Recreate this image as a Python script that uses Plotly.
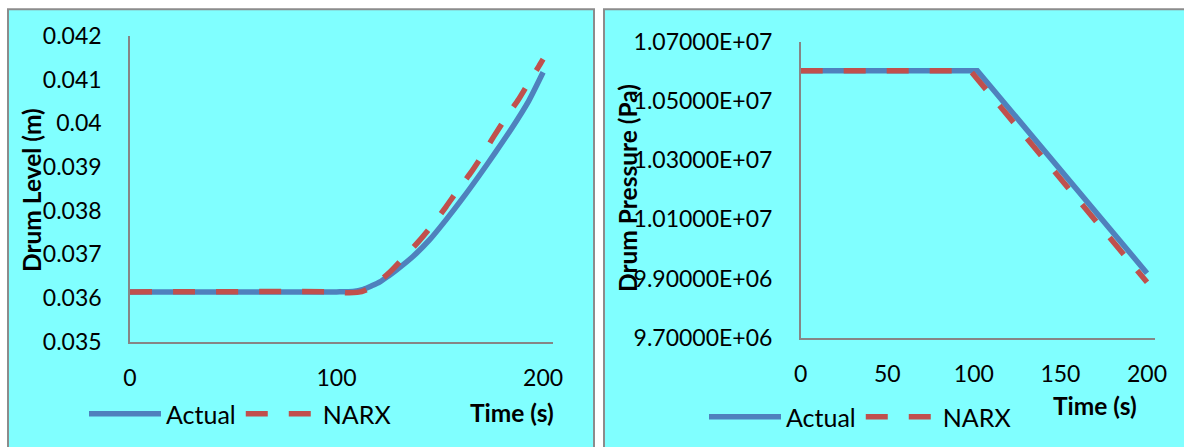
import plotly.graph_objects as go

# ---------------- data ----------------
# Left panel: drum level (m)
t_level_actual = [0, 100, 108, 113, 117, 121, 125, 129, 137, 145, 153, 161, 169, 177, 185, 193, 200]
level_actual = [0.03614, 0.03614, 0.03615, 0.03620, 0.03628, 0.03637, 0.03650, 0.03664, 0.03695,
                0.03733, 0.03779, 0.03828, 0.03880, 0.03934, 0.03990, 0.04051, 0.04117]
t_level_narx = [0, 100, 105, 110, 114, 119, 126, 133, 140, 147, 153, 159, 165, 171, 176, 182, 188, 193, 198, 200]
level_narx = [0.03614, 0.03614, 0.03612, 0.03613, 0.03618, 0.03632, 0.03660, 0.03695, 0.03731, 0.03771,
              0.03809, 0.03849, 0.03887, 0.03930, 0.03969, 0.04013, 0.04054, 0.04093, 0.04131, 0.04147]

# Right panel: drum pressure (Pa)
t_press_actual = [0, 102, 200]
press_actual = [1.0602e7, 1.0602e7, 9.918e6]
t_press_narx = [0, 98, 200]
press_narx = [1.0602e7, 1.0602e7, 9.887e6]

level_ticks = [0.035, 0.036, 0.037, 0.038, 0.039, 0.040, 0.041, 0.042]
level_ticktext = ["0.035", "0.036", "0.037", "0.038", "0.039", "0.04", "0.041", "0.042"]
press_ticks = [9.7e6, 9.9e6, 1.01e7, 1.03e7, 1.05e7, 1.07e7]
press_ticktext = ["9.70000E+06", "9.90000E+06", "1.01000E+07", "1.03000E+07", "1.05000E+07", "1.07000E+07"]
time_ticks_left = [0, 100, 200]
time_ticks_right = [0, 50, 100, 150, 200]

# ---------------- style ----------------
W, H = 1184, 447
BLUE = "#4F81BD"
RED = "#C0504D"
CYAN = "#80FFFF"
BORDER = "#8C8C8C"
AXIS = "#868686"
FONT = "Lato"
LW = 5.5
DASH = "22px,21px"


def px(x):
    return x / W


def py(y):
    return 1 - y / H


fig = go.Figure()

fig.add_trace(go.Scatter(x=t_level_actual, y=level_actual, mode="lines", name="Actual",
                         line=dict(color=BLUE, width=LW, shape="spline", smoothing=0.6),
                         xaxis="x", yaxis="y", legend="legend"))
fig.add_trace(go.Scatter(x=t_level_narx, y=level_narx, mode="lines", name="NARX",
                         line=dict(color=RED, width=LW, dash=DASH, shape="spline", smoothing=0.6),
                         xaxis="x", yaxis="y", legend="legend"))
fig.add_trace(go.Scatter(x=t_press_actual, y=press_actual, mode="lines", name="Actual",
                         line=dict(color=BLUE, width=LW),
                         xaxis="x2", yaxis="y2", legend="legend2"))
fig.add_trace(go.Scatter(x=t_press_narx, y=press_narx, mode="lines", name="NARX",
                         line=dict(color=RED, width=LW, dash=DASH),
                         xaxis="x2", yaxis="y2", legend="legend2"))

tickfont = dict(family=FONT, size=23, color="#000000")
common_axis = dict(showgrid=False, zeroline=False, showline=True, linecolor=AXIS, linewidth=1.5,
                   ticks="", tickfont=tickfont, fixedrange=True, automargin=False)

fig.update_layout(
    template="none",
    width=W, height=H,
    margin=dict(l=0, r=0, t=0, b=0, autoexpand=False),
    paper_bgcolor="#FFFFFF",
    plot_bgcolor="rgba(0,0,0,0)",
    font=dict(family=FONT, color="#000000"),
    xaxis=dict(domain=[px(130), px(553)], range=[0, 204.8], tickvals=time_ticks_left,
               anchor="y", ticklabelstandoff=15, **common_axis),
    yaxis=dict(domain=[py(341.7), py(36)], range=[0.035, 0.042], tickvals=level_ticks,
               ticktext=level_ticktext, anchor="x", ticklabelstandoff=22, **common_axis),
    xaxis2=dict(domain=[px(800.7), px(1155)], range=[0, 204.6], tickvals=time_ticks_right,
                anchor="y2", ticklabelstandoff=15, **common_axis),
    yaxis2=dict(domain=[py(337.7), py(41.7)], range=[9.7e6, 1.07e7], tickvals=press_ticks,
                ticktext=press_ticktext, anchor="x2", ticklabelstandoff=22, **common_axis),
    legend=dict(orientation="h", x=px(84), y=py(414), xanchor="left", yanchor="middle",
                bgcolor="rgba(0,0,0,0)", font=dict(family=FONT, size=25), itemwidth=72,
                tracegroupgap=0),
    legend2=dict(orientation="h", x=px(704), y=py(417), xanchor="left", yanchor="middle",
                 bgcolor="rgba(0,0,0,0)", font=dict(family=FONT, size=25), itemwidth=72,
                 tracegroupgap=0),
    shapes=[
        dict(type="rect", xref="paper", yref="paper", x0=px(8), x1=px(594), y0=-0.2, y1=py(9.3),
             fillcolor=CYAN, line=dict(color=BORDER, width=2), layer="below"),
        dict(type="rect", xref="paper", yref="paper", x0=px(604), x1=1.2, y0=-0.2, y1=py(9.3),
             fillcolor=CYAN, line=dict(color=BORDER, width=2), layer="below"),
    ],
    annotations=[
        dict(text="<b>Drum Level (m)</b>", xref="paper", yref="paper", x=px(31), y=py(190),
             xanchor="center", yanchor="middle",
             textangle=-90, showarrow=False, font=dict(family=FONT, size=24.5)),
        dict(text="<b>Drum Pressure (Pa)</b>", xref="paper", yref="paper", x=px(627), y=py(188),
             xanchor="center", yanchor="middle",
             textangle=-90, showarrow=False, font=dict(family=FONT, size=24.5)),
        dict(text="<b>Time (s)</b>", xref="paper", yref="paper", x=px(512), y=py(412),
             xanchor="center", yanchor="middle",
             showarrow=False, font=dict(family=FONT, size=24.5)),
        dict(text="<b>Time (s)</b>", xref="paper", yref="paper", x=px(1095), y=py(405),
             xanchor="center", yanchor="middle",
             showarrow=False, font=dict(family=FONT, size=24.5)),
    ],
)

fig.write_html("out.html")
